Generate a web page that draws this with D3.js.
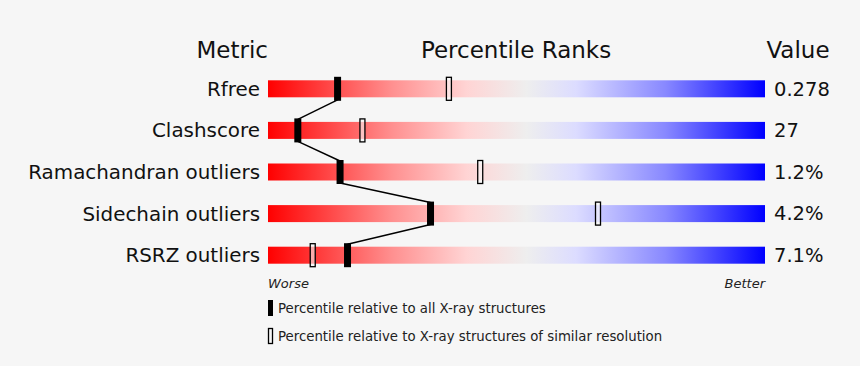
<!DOCTYPE html>
<html><head><meta charset="utf-8">
<script src="https://cdn.jsdelivr.net/npm/d3@7"></script>
<style>html,body{margin:0;padding:0;background:#f6f6f6;}svg{display:block;font-family:"DejaVu Sans",sans-serif;}</style>
</head><body><svg id="c" width="860" height="366"></svg>
<script>
const metrics = ["Rfree","Clashscore","Ramachandran outliers","Sidechain outliers","RSRZ outliers"];
const absolutePct = [14, 6, 14.5, 32.7, 16];
const relativePct = [36.4, 19, 42.7, 66.4, 9];
const values = ["0.278","27","1.2%","4.2%","7.1%"];
const headers = ["Metric","Percentile Ranks","Value"];
const legendLabels = ["Percentile relative to all X-ray structures","Percentile relative to X-ray structures of similar resolution"];

const svg = d3.select("#c");
const x = d3.scaleLinear().domain([0,100]).range([268,765]);
const y = d3.scaleBand().domain(metrics).range([68,276]).paddingInner(0.6).paddingOuter(0.3);
const yc = d => y(d) + y.bandwidth()/2;

const defs = svg.append("defs");
const grad = defs.append("linearGradient").attr("id","g").attr("x1","0").attr("x2","1").attr("y1","0").attr("y2","0");
[[0,"#ff0000"],[0.1,"#ff3a3a"],[0.25,"#ff9090"],[0.4,"#ffd4d4"],[0.52,"#eeeeee"],[0.62,"#dcdcff"],[0.8,"#8888ff"],[1,"#0000ff"]]
  .forEach(([o,c])=>grad.append("stop").attr("offset",o).attr("stop-color",c));

svg.append("text").attr("x",268).attr("y",58).attr("text-anchor","end").attr("font-size",23).attr("fill","#111").text(headers[0]);
svg.append("text").attr("x",516).attr("y",58).attr("text-anchor","middle").attr("font-size",23).attr("fill","#111").text(headers[1]);
svg.append("text").attr("x",798).attr("y",58).attr("text-anchor","middle").attr("font-size",23).attr("fill","#111").text(headers[2]);

const barH = 17;
metrics.forEach((m,i)=>{
  svg.append("rect").attr("x",x(0)).attr("width",x(100)-x(0)).attr("y",yc(m)-barH/2).attr("height",barH).attr("fill","url(#g)");
  svg.append("text").attr("x",260).attr("y",yc(m)).attr("dy","0.35em").attr("text-anchor","end").attr("font-size",19.9).attr("fill","#111").text(m);
  svg.append("text").attr("x",774).attr("y",yc(m)).attr("dy","0.35em").attr("font-size",19.5).attr("fill","#111").text(values[i]);
});

// connecting lines
const mh = 24, mw = 6;
for(let i=0;i<metrics.length-1;i++){
  svg.append("line").attr("x1",x(absolutePct[i])).attr("y1",yc(metrics[i])+mh/2-1)
    .attr("x2",x(absolutePct[i+1])).attr("y2",yc(metrics[i+1])-mh/2+1).attr("stroke","#000").attr("stroke-width",1.5);
}
metrics.forEach((m,i)=>{
  svg.append("rect").attr("x",x(relativePct[i])-mw/2+0.5).attr("y",yc(m)-mh/2+0.5).attr("width",mw-1).attr("height",mh-1)
    .attr("fill","#fafafa").attr("fill-opacity",0.6).attr("stroke","#000").attr("stroke-width",1.3);
  svg.append("rect").attr("x",x(absolutePct[i])-mw/2-0.5).attr("y",yc(m)-mh/2).attr("width",mw+1).attr("height",mh).attr("fill","#000");
});

svg.append("text").attr("x",268).attr("y",288).attr("font-size",13).attr("font-style","italic").attr("fill","#222").text("Worse");
svg.append("text").attr("x",765).attr("y",288).attr("text-anchor","end").attr("font-size",13).attr("font-style","italic").attr("fill","#222").text("Better");

svg.append("rect").attr("x",268).attr("y",300).attr("width",5).attr("height",16).attr("fill","#000");
svg.append("text").attr("x",278).attr("y",308).attr("dy","0.35em").attr("font-size",13.3).attr("fill","#222").text(legendLabels[0]);
svg.append("rect").attr("x",268.5).attr("y",328.5).attr("width",4).attr("height",15).attr("fill","none").attr("stroke","#000").attr("stroke-width",1.3);
svg.append("text").attr("x",278).attr("y",336).attr("dy","0.35em").attr("font-size",13.3).attr("fill","#222").text(legendLabels[1]);
</script></body></html>
